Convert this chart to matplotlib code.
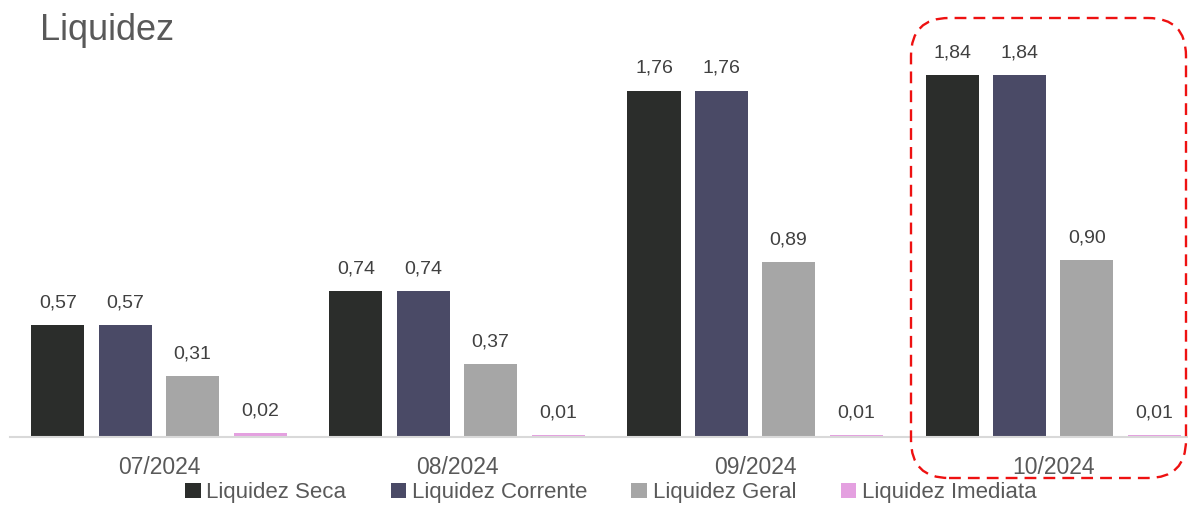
import numpy as np
import matplotlib
matplotlib.use('Agg')
import matplotlib.pyplot as plt
from matplotlib.patches import FancyBboxPatch

plt.rcParams['font.family'] = ['Liberation Sans', 'DejaVu Sans']

# dados
meses = ['07/2024', '08/2024', '09/2024', '10/2024']
seca = [0.57, 0.74, 1.76, 1.84]
corrente = [0.57, 0.74, 1.76, 1.84]
geral = [0.31, 0.37, 0.89, 0.90]
imediata = [0.02, 0.01, 0.01, 0.01]

series = [('Liquidez Seca', seca, '#2B2D2B'),
          ('Liquidez Corrente', corrente, '#4A4A66'),
          ('Liquidez Geral', geral, '#A6A6A6'),
          ('Liquidez Imediata', imediata, '#E4A0E0')]

fig = plt.figure(figsize=(11.88, 5.05), dpi=100)
ax = fig.add_axes([10 / 1188, 68 / 505, 1178 / 1188, 437 / 505])

x = np.arange(len(meses))
offsets = [-0.34, -0.113, 0.111, 0.339]
w = 0.178

for (nome, vals, cor), off in zip(series, offsets):
    bars = ax.bar(x + off, vals, w, color=cor, label=nome, zorder=2)
    for b, v in zip(bars, vals):
        ax.annotate(f'{v:.2f}'.replace('.', ','), (b.get_x() + b.get_width() / 2, v),
                    xytext=(0, 10), textcoords='offset points', ha='center', va='bottom',
                    fontsize=14, color='#404040')

ax.set_xlim(-0.5, 3.451)
ax.set_ylim(0, 2.222)
for s in ['top', 'right', 'left']:
    ax.spines[s].set_visible(False)
ax.spines['bottom'].set_color('#D9D9D9')
ax.spines['bottom'].set_linewidth(1.5)
ax.set_yticks([])
ax.set_xticks(x)
ax.set_xticklabels(meses, fontsize=16.5, color='#595959')
ax.tick_params(axis='x', length=0, pad=14)

fig.text(40 / 1188, 1 - 31 / 505, 'Liquidez', fontsize=26, color='#595959', va='center', ha='left')

fig.legend(loc='center', bbox_to_anchor=(0.514, 0.024), ncol=4, frameon=False,
           fontsize=16, handlelength=0.7, handleheight=0.7, handletextpad=0.25,
           columnspacing=2.0, labelcolor='#595959')

# destaque do ultimo mes (em polegadas)
box = FancyBboxPatch((9.11, 0.27), 2.75, 4.60,
                     boxstyle='round,pad=0,rounding_size=0.38', transform=fig.dpi_scale_trans,
                     fill=False, edgecolor='#EE1111', linestyle=(0, (5, 3)), linewidth=1.7)
fig.patches.append(box)

fig.savefig('out.png', dpi=100)
